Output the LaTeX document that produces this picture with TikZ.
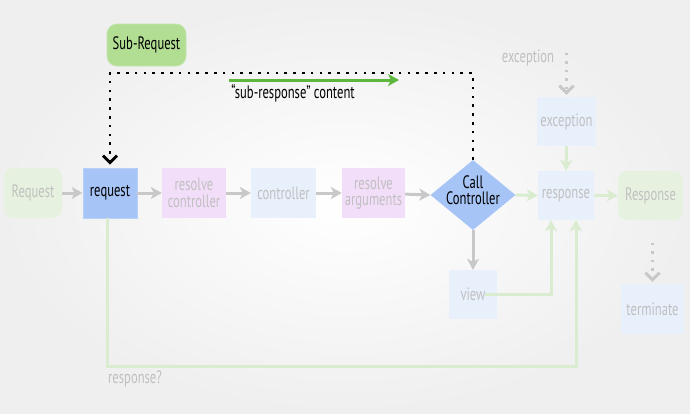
\documentclass[tikz,border=0pt]{standalone}
\usepackage{fontspec}
\setmainfont{PT Sans}[FakeStretch=0.7]
\usetikzlibrary{arrows.meta,shapes.geometric}
\definecolor{bluebox}{HTML}{A6C4F6}
\definecolor{blueedge}{HTML}{B8D0F8}
\definecolor{subgreen}{HTML}{B2DE94}
\definecolor{subgreenedge}{HTML}{C2E6AA}
\definecolor{fadegreen}{HTML}{E6F2DF}
\definecolor{fadepink}{HTML}{F3DEFA}
\definecolor{fadeblue}{HTML}{E8F0FC}
\definecolor{fadetext}{HTML}{C0C0C0}
\definecolor{grayarrow}{HTML}{C8C8C8}
\definecolor{lightgreen}{HTML}{D9ECD0}
\definecolor{arrowgreen}{HTML}{5DB73D}
\definecolor{bgouter}{HTML}{EFEFEF}
\begin{document}
\begin{tikzpicture}[x=1pt,y=-1pt,
  font=\fontsize{18}{16.5}\selectfont,
  every node/.style={align=center, inner sep=0pt},
  fadebox/.style={rectangle, text=fadetext, minimum height=50pt},
  greyflow/.style={draw=grayarrow, line width=3pt, -{Stealth[length=11pt,width=12pt,inset=3pt]}},
  greenflow/.style={draw=lightgreen, line width=3pt, -{Stealth[length=11pt,width=12pt,inset=3pt]}},
  blackdots/.style={draw=black, line width=2.6pt, dash pattern=on 2.6pt off 6.2pt, -{Straight Barb[length=7pt,width=14pt,line width=2.8pt]}, shorten >=3pt},
  greydots/.style={draw=grayarrow, line width=2.4pt, dash pattern=on 2.4pt off 6pt, -{Straight Barb[length=7pt,width=14pt,line width=3pt]}, shorten >=2pt}
]
\shade[inner color=white, outer color=bgouter] (0,0) rectangle (690,413);
\useasboundingbox (0,0) rectangle (690,413);

% nodes
\node[fadebox, fill=fadegreen, rounded corners=9pt, minimum width=58pt] (Req) at (33,193) {Request};
\node[rectangle, fill=bluebox, draw=blueedge, line width=0.8pt, minimum width=54pt, minimum height=50pt] (req) at (110,193) {request};
\node[fadebox, fill=fadepink, minimum width=64pt] (rc) at (194,193) {resolve\\controller};
\node[fadebox, fill=fadeblue, minimum width=65pt] (ctrl) at (283.5,193) {controller};
\node[fadebox, fill=fadepink, minimum width=63pt] (ra) at (373.5,193) {resolve\\arguments};
\node[diamond, fill=bluebox, minimum width=85pt, minimum height=70pt] (call) at (473,195) {};
\node (calltext) at (473,190) {Call\\Controller};
\node[fadebox, fill=fadeblue, minimum width=59pt, minimum height=49pt] (exc) at (566.5,121.5) {exception};
\node[fadebox, fill=fadeblue, minimum width=56pt, minimum height=49pt] (resp) at (566,195.5) {response};
\node[fadebox, fill=fadegreen, rounded corners=9pt, minimum width=65pt, minimum height=49pt] (Resp) at (650.5,195.5) {Response};
\node[fadebox, fill=fadeblue, minimum width=48pt, minimum height=49pt] (view) at (473,294.5) {view};
\node[fadebox, fill=fadeblue, minimum width=63pt] (term) at (652.5,309) {terminate};
\node[rectangle, fill=subgreen, draw=subgreenedge, line width=0.8pt, rounded corners=10pt, minimum width=79pt, minimum height=42pt] (sub) at (146.5,45) {Sub-Request};

% labels
\node[text=fadetext] (exclabel) at (528,58) {exception};
\node[text=fadetext, anchor=west] (resplabel) at (108,379) {response?};
\node (subcontent) at (293,93) {“sub-response” content};
\coordinate (gstart) at (229,80);
\coordinate (gend) at (399,80);
\coordinate (excdots) at (566.5,53);
\coordinate (termdots) at (652.5,243);

% main flow
\draw[greyflow] (Req) -- (req);
\draw[greyflow] (req) -- (rc);
\draw[greyflow] (rc) -- (ctrl);
\draw[greyflow] (ctrl) -- (ra);
\draw[greyflow] (ra) -- (call.west);
\draw[greyflow] (call.south) -- (view.north);
\draw[greenflow] (call.east) -- (resp.west);
\draw[greenflow] (resp) -- (Resp);
\draw[greenflow] (exc) -- (resp);
\draw[greenflow] ([xshift=12pt]view.center) -| ([xshift=-15pt]resp.south);
\draw[greenflow] ([xshift=-3pt]req.south) -- ([xshift=-3pt]req.south |- 0,366) -| ([xshift=10pt]resp.south);

% dotted
\draw[greydots] (excdots) -- (exc.north);
\draw[greydots] (termdots) -- (term.north);
\draw[blackdots] (call.north) -- (call.north |- 0,73) -| (req.north);

% green arrow
\draw[draw=arrowgreen, line width=3pt, -{Stealth[length=11pt,width=12pt,inset=3pt]}] (gstart) -- (gend);
\end{tikzpicture}
\end{document}
